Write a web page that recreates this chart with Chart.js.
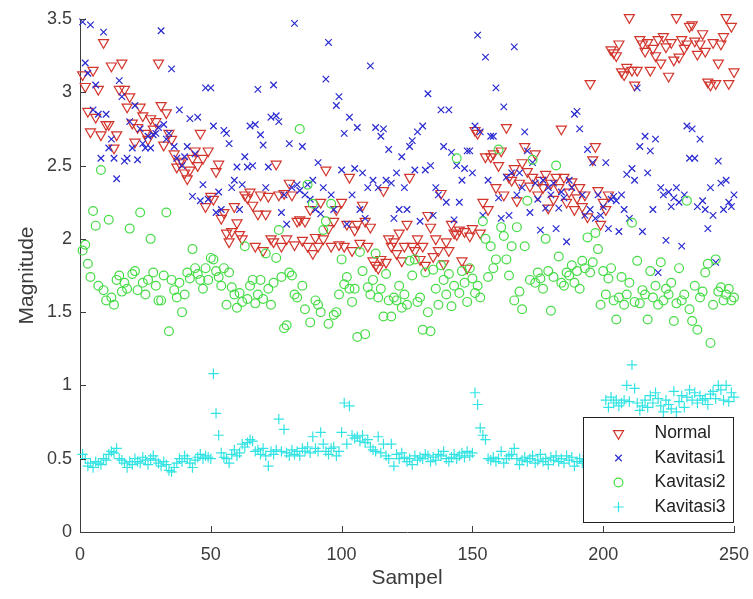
<!DOCTYPE html>
<html>
<head>
<meta charset="utf-8">
<script src="https://cdn.jsdelivr.net/npm/chart.js@4.4.1/dist/chart.umd.min.js"></script>
<style>
  html, body { margin: 0; padding: 0; background: #fff; }
  #wrap { width: 753px; height: 599px; position: relative; }
</style>
</head>
<body>
<div id="wrap"><canvas id="chart"></canvas></div>
<script>
// magnitudes, sample 1..250
const normal = [
  3.12, 3.04, 2.87, 2.73, 3.15, 2.83, 3.02, 2.71, 3.34, 2.78,
  2.78, 3.18, 2.62, 2.71, 3.02, 3.2, 3.02, 2.9, 2.97, 2.79,
  2.66, 2.76, 2.9, 2.84, 2.72, 2.68, 2.82, 2.75, 2.8, 3.2,
  2.91, 2.64, 2.86, 2.72, 2.68, 2.58, 2.49, 2.52, 2.53, 2.45,
  2.41, 2.47, 2.55, 2.6, 2.5, 2.72, 2.55, 2.22, 2.6, 2.29,
  2.27, 2.46, 2.51, 2.14, 2.18, 2.04, 1.98, 2.05, 2.22, 2.11,
  2.03, 2.0, 2.3, 2.28, 2.32, 2.23, 1.95, 2.17, 2.3, 1.92,
  2.17, 2.29, 2.0, 1.98, 2.51, 2.3, 1.95, 2.31, 2.0, 2.38,
  2.3, 1.96, 2.12, 2.13, 1.99, 2.12, 1.95, 2.2, 1.9, 2.01,
  1.95, 2.25, 2.0, 2.47, 2.07, 1.95, 2.12, 2.2, 1.96, 2.25,
  1.95, 2.1, 2.42, 1.92, 2.06, 2.1, 1.97, 2.23, 2.12, 1.95,
  2.08, 1.85, 1.82, 1.8, 1.86, 2.33, 1.84, 2.0, 1.95, 1.98,
  1.9, 2.04, 1.85, 1.95, 2.1, 2.42, 1.95, 1.92, 2.0, 1.86,
  1.95, 1.82, 2.16, 2.08, 1.88, 2.0, 1.92, 2.31, 1.83, 1.98,
  1.92, 2.1, 2.04, 2.03, 2.06, 1.85, 2.05, 1.8, 2.02, 2.07,
  2.74, 2.72, 2.04, 2.25, 2.56, 2.2, 2.56, 2.58, 2.35, 2.5,
  2.6, 2.3, 2.76, 2.42, 2.4, 2.48, 2.26, 2.38, 2.52, 2.63,
  2.46, 2.36, 2.42, 2.58, 2.3, 2.4, 2.35, 2.44, 2.21, 2.38,
  2.27, 2.42, 2.35, 2.75, 2.42, 2.25, 2.32, 2.39, 2.2, 2.28,
  2.35, 2.22, 2.3, 2.15, 3.06, 2.54, 2.63, 2.33, 2.1, 2.25,
  2.2, 2.3, 3.29, 3.27, 3.25, 3.33, 3.14, 3.12, 3.17, 3.51,
  3.15, 3.05, 3.15, 3.36, 3.33, 3.28, 3.34, 3.15, 3.3, 3.25,
  3.36, 3.2, 3.38, 3.31, 3.11, 3.34, 3.22, 3.51, 3.24, 3.36,
  3.3, 3.33, 3.45, 3.46, 3.35, 3.26, 3.33, 3.4, 3.28, 3.07,
  3.05, 3.34, 3.06, 3.2, 3.33, 3.38, 3.51, 3.06, 3.45, 3.14
];

const kavitasi1 = [
  3.48, 3.2, 3.13, 3.46, 2.88, 3.05, 2.85, 2.55, 3.41, 2.85,
  2.62, 2.68, 2.55, 2.41, 3.08, 2.97, 2.53, 2.55, 2.8, 2.62,
  2.91, 2.54, 2.75, 2.65, 2.62, 2.7, 2.62, 2.71, 2.72, 2.76,
  3.42, 2.78, 2.68, 2.72, 3.16, 2.63, 2.55, 2.88, 2.5, 2.56,
  2.63, 2.82, 2.29, 2.58, 2.83, 2.26, 2.37, 3.03, 2.27, 3.03,
  2.77, 2.18, 2.32, 2.2, 2.74, 2.72, 2.65, 2.35, 2.4, 2.49,
  2.2, 2.37, 2.56, 2.49, 2.77, 2.5, 2.78, 3.02, 2.71, 2.64,
  2.35, 2.49, 2.83, 3.05, 2.84, 2.8, 2.18, 2.3, 2.1, 2.65,
  2.35, 3.47, 2.37, 2.33, 2.63, 2.3, 2.37, 2.27, 2.4, 2.2,
  2.52, 2.17, 2.35, 3.09, 3.34, 2.3, 2.2, 2.91, 2.97, 2.47,
  2.72, 2.1, 2.83, 2.3, 2.48, 2.76, 2.2, 2.45, 2.14, 2.35,
  3.18, 2.4, 2.76, 2.35, 2.7, 2.75, 2.4, 2.61, 2.38, 2.14,
  2.45, 2.2, 2.56, 2.35, 2.2, 2.63, 2.67, 2.47, 2.73, 2.12,
  2.77, 2.47, 2.99, 2.5, 2.16, 2.35, 2.3, 2.88, 2.63, 2.25,
  2.88, 2.59, 2.13, 2.5, 2.25, 2.4, 2.48, 2.6, 2.6, 2.45,
  2.77, 3.39, 2.73, 2.16, 3.24, 2.4, 2.7, 2.7, 3.03, 2.28,
  2.14, 2.9, 2.42, 2.16, 2.45, 3.31, 2.3, 2.45, 2.35, 2.73,
  2.6, 2.18, 2.52, 2.38, 2.27, 2.06, 2.4, 2.21, 2.35, 2.3,
  2.38, 2.07, 2.21, 2.32, 2.28, 1.98, 2.4, 2.35, 2.85, 2.87,
  2.75, 2.3, 2.16, 2.61, 2.2, 2.52, 2.14, 2.3, 2.16, 2.22,
  2.52, 2.07, 2.27, 2.29, 2.26, 2.05, 2.3, 2.2, 2.44, 2.14,
  2.48, 2.4, 3.03, 2.63, 2.05, 2.7, 2.45, 2.6, 2.2, 2.68,
  1.77, 2.35, 2.3, 1.99, 2.32, 2.22, 2.28, 2.35, 2.25, 1.95,
  2.3, 2.77, 2.55, 2.75, 2.55, 2.22, 2.68, 2.26, 2.2, 2.07,
  2.35, 2.16, 1.84, 2.53, 2.38, 2.2, 2.4, 2.25, 2.22, 2.3
];

const kavitasi2 = [
  1.92, 1.96, 1.83, 1.74, 2.19, 2.09, 1.68, 2.47, 1.65, 1.58,
  2.13, 1.6, 1.55, 1.72, 1.75, 1.64, 1.7, 1.66, 2.07, 1.76,
  1.78, 1.65, 2.18, 1.7, 1.62, 1.72, 2.0, 1.77, 1.68, 1.58,
  1.58, 1.75, 2.18, 1.37, 1.72, 1.65, 1.6, 1.7, 1.5, 1.62,
  1.77, 1.73, 1.93, 1.8, 1.76, 1.72, 1.66, 1.8, 1.72, 1.87,
  1.86, 1.78, 1.74, 1.68, 1.8, 1.55, 1.77, 1.67, 1.62, 1.53,
  1.63, 1.57, 1.95, 1.59, 1.68, 1.72, 1.56, 1.62, 1.72, 1.59,
  1.9, 1.66, 1.55, 1.7, 1.87, 2.06, 1.74, 1.39, 1.41, 1.77,
  1.75, 1.62, 1.6, 2.75, 1.68, 1.52, 2.37, 1.43, 2.24, 1.58,
  1.55, 1.5, 2.06, 2.12, 1.42, 2.24, 1.48, 1.5, 1.62, 1.86,
  1.69, 1.74, 1.66, 1.57, 1.66, 1.33, 1.91, 1.78, 1.35, 1.67,
  1.62, 1.72, 1.9, 1.6, 1.66, 1.47, 1.76, 1.58, 1.47, 1.6,
  1.58, 1.68, 1.53, 1.62, 1.55, 1.85, 1.75, 1.86, 1.57, 1.6,
  1.38, 1.77, 1.5, 1.37, 1.79, 1.66, 1.55, 1.82, 1.72, 1.62,
  1.76, 1.54, 1.68, 2.55, 1.63, 1.78, 1.7, 1.57, 1.8, 1.73,
  1.63, 1.68, 1.6, 2.12, 2.0, 1.74, 1.95, 1.8, 1.86, 2.61,
  2.08, 2.02, 1.86, 1.75, 1.95, 1.58, 2.08, 1.64, 1.52, 1.95,
  2.26, 1.72, 2.54, 1.7, 1.77, 1.73, 1.66, 2.0, 1.78, 1.51,
  1.74, 2.5, 1.88, 1.7, 1.68, 1.77, 1.75, 1.82, 1.7, 1.78,
  1.66, 1.85, 1.8, 2.01, 1.77, 1.84, 2.04, 1.93, 1.55, 1.78,
  1.62, 1.73, 1.8, 1.58, 1.45, 1.6, 1.74, 1.55, 1.62, 1.7,
  2.11, 1.57, 1.85, 1.56, 1.65, 1.62, 1.45, 1.78, 1.6, 1.68,
  1.55, 1.84, 1.58, 1.66, 1.62, 1.7, 1.44, 1.56, 1.8, 1.58,
  1.62, 2.26, 1.52, 1.44, 1.68, 1.38, 1.6, 1.64, 1.77, 1.83,
  1.29, 1.55, 1.86, 1.64, 1.67, 1.58, 1.62, 1.66, 1.58, 1.6
];

const kavitasi3 = [
  0.53, 0.5, 0.45, 0.47, 0.44, 0.48, 0.47, 0.46, 0.5, 0.49,
  0.53, 0.55, 0.54, 0.57, 0.5, 0.49, 0.47, 0.44, 0.48, 0.46,
  0.5, 0.48, 0.47, 0.51, 0.49, 0.46, 0.5, 0.52, 0.49, 0.47,
  0.45, 0.48, 0.46, 0.42, 0.41, 0.44, 0.47, 0.5, 0.48, 0.52,
  0.5, 0.47, 0.44, 0.49, 0.51, 0.53, 0.5, 0.52, 0.51, 0.5,
  1.08, 0.81, 0.66, 0.54, 0.51, 0.5, 0.47, 0.53, 0.56, 0.52,
  0.54, 0.6, 0.58, 0.61, 0.63, 0.62, 0.55, 0.56, 0.53, 0.57,
  0.52, 0.45, 0.55, 0.53, 0.56, 0.77, 0.55, 0.7, 0.54, 0.52,
  0.56, 0.53, 0.55, 0.52, 0.57, 0.55, 0.58, 0.54, 0.65, 0.57,
  0.55, 0.68, 0.6, 0.55, 0.53, 0.57, 0.58, 0.52, 0.55, 0.68,
  0.88, 0.6, 0.86, 0.66, 0.64, 0.65, 0.62, 0.66, 0.61, 0.63,
  0.58, 0.56, 0.55, 0.65, 0.54, 0.6, 0.52, 0.5, 0.6, 0.45,
  0.53, 0.5, 0.54, 0.51, 0.48, 0.5, 0.46, 0.52, 0.49, 0.51,
  0.5, 0.53, 0.52, 0.48, 0.51, 0.49, 0.53, 0.52, 0.55, 0.5,
  0.48, 0.51, 0.53, 0.5, 0.52, 0.54, 0.51, 0.55, 0.52, 0.54,
  0.95, 0.87, 0.71, 0.66, 0.63, 0.5, 0.49, 0.51, 0.48, 0.5,
  0.55, 0.47, 0.5, 0.52, 0.53, 0.57, 0.5, 0.46, 0.49, 0.51,
  0.48, 0.5, 0.52, 0.47, 0.49, 0.53, 0.48, 0.5, 0.46, 0.51,
  0.49, 0.52, 0.48, 0.5, 0.47, 0.52, 0.49, 0.51, 0.45, 0.48,
  0.5, 0.47, 0.49, 0.52, 0.48, 0.46, 0.5, 0.49, 0.47, 0.5,
  0.9, 0.85, 0.92, 0.88, 0.9, 0.86, 0.88, 0.9, 1.0, 0.89,
  1.14, 0.98, 0.88, 0.83, 0.86, 0.9, 0.85, 0.93, 0.88, 0.95,
  0.91, 0.86, 0.82, 0.9, 0.87, 0.84, 0.96, 0.82, 0.89, 0.93,
  0.85, 0.92, 0.97, 0.9, 0.95, 0.88, 0.93, 0.9, 0.91, 0.87,
  0.94, 0.96, 0.91, 1.0, 0.97, 0.9, 1.0, 0.89, 0.95, 0.92
];

const seriesNames = ["Normal", "Kavitasi1", "Kavitasi2", "Kavitasi3"];
const xTicks = [0, 50, 100, 150, 200, 250];
const yTicks = [0, 0.5, 1, 1.5, 2, 2.5, 3, 3.5];

const AXIS_COLOR = "#3c3c3c";
const FONT = "\"Liberation Sans\", Arial, sans-serif";

const markers = [
  { style: "triangle", rotation: 180, radius: 5.8, color: "#d2352c" },
  { style: "crossRot", rotation: 0, radius: 4.6, color: "#2a2ad2" },
  { style: "circle", rotation: 0, radius: 4.4, color: "#46dc46" },
  { style: "cross", rotation: 0, radius: 5.2, color: "#33e3e3" }
];

function toPoints(values) {
  return values.map((v, i) => ({ x: i + 1, y: v }));
}

function drawMarker(ctx, m, x, y) {
  const r = m.radius;
  ctx.save();
  ctx.strokeStyle = m.color;
  ctx.lineWidth = 1.2;
  ctx.beginPath();
  if (m.style === "triangle") {
    const h = r * Math.sqrt(3) / 2;
    ctx.moveTo(x - h, y - r / 2);
    ctx.lineTo(x + h, y - r / 2);
    ctx.lineTo(x, y + r);
    ctx.closePath();
  } else if (m.style === "crossRot") {
    const d = r * Math.SQRT1_2;
    ctx.moveTo(x - d, y - d); ctx.lineTo(x + d, y + d);
    ctx.moveTo(x - d, y + d); ctx.lineTo(x + d, y - d);
  } else if (m.style === "circle") {
    ctx.arc(x, y, r, 0, Math.PI * 2);
  } else {
    ctx.moveTo(x - r, y); ctx.lineTo(x + r, y);
    ctx.moveTo(x, y - r); ctx.lineTo(x, y + r);
  }
  ctx.stroke();
  ctx.restore();
}

// inward tick marks (MATLAB style) and the boxed legend in the lower right
const matlabAxes = {
  id: "matlabAxes",
  afterDatasetsDraw(chart) {
    const { ctx, chartArea: area, scales } = chart;
    ctx.save();
    ctx.strokeStyle = AXIS_COLOR;
    ctx.lineWidth = 1;
    scales.x.ticks.forEach((t) => {
      const px = Math.round(scales.x.getPixelForValue(t.value)) + 0.5;
      ctx.beginPath();
      ctx.moveTo(px, area.bottom);
      ctx.lineTo(px, area.bottom - 6);
      ctx.stroke();
    });
    scales.y.ticks.forEach((t) => {
      const py = Math.round(scales.y.getPixelForValue(t.value)) + 0.5;
      ctx.beginPath();
      ctx.moveTo(area.left, py);
      ctx.lineTo(area.left + 6, py);
      ctx.stroke();
    });

    const w = 150, h = 105;
    const left = Math.round(area.right - w - 1) + 0.5;
    const top = Math.round(area.bottom - h - 10) + 0.5;
    ctx.fillStyle = "#fff";
    ctx.fillRect(left, top, w, h);
    ctx.strokeStyle = "#222";
    ctx.strokeRect(left, top, w, h);
    ctx.font = "17.5px " + FONT;
    ctx.fillStyle = "#222";
    ctx.textBaseline = "middle";
    ctx.textAlign = "left";
    seriesNames.forEach((name, i) => {
      const cy = top + 16 + i * 24.5;
      drawMarker(ctx, markers[i], left + 35, cy);
      ctx.fillText(name, left + 71, cy);
    });
    ctx.restore();
  }
};

const datasets = [normal, kavitasi1, kavitasi2, kavitasi3].map((values, i) => ({
  label: seriesNames[i],
  data: toPoints(values),
  pointStyle: markers[i].style,
  rotation: markers[i].rotation,
  pointRadius: markers[i].radius,
  pointHoverRadius: markers[i].radius,
  borderColor: markers[i].color,
  backgroundColor: "rgba(0,0,0,0)",
  pointBorderWidth: 1.2,
  clip: false,
  order: 4 - i
}));

new Chart(document.getElementById("chart"), {
  type: "scatter",
  data: { datasets },
  options: {
    animation: false,
    responsive: true,
    maintainAspectRatio: false,
    layout: { padding: { top: 19, right: 19, left: 0, bottom: 0 } },
    plugins: {
      legend: { display: false },
      tooltip: { enabled: false }
    },
    scales: {
      x: {
        type: "linear",
        min: 0,
        max: 250,
        afterBuildTicks: (scale) => { scale.ticks = xTicks.map((v) => ({ value: v })); },
        afterFit: (scale) => {
          scale.height = 67;
          scale.paddingLeft = 0;
          scale.paddingRight = 0;
        },
        grid: { display: false, drawTicks: false, tickLength: 0 },
        border: { display: true, color: AXIS_COLOR, width: 1 },
        ticks: { color: AXIS_COLOR, padding: 12, maxRotation: 0, font: { family: FONT, size: 18 } },
        title: {
          display: true,
          text: "Sampel",
          color: AXIS_COLOR,
          font: { family: FONT, size: 21 },
          padding: { top: 0, bottom: 8 }
        }
      },
      y: {
        type: "linear",
        min: 0,
        max: 3.5,
        afterBuildTicks: (scale) => { scale.ticks = yTicks.map((v) => ({ value: v })); },
        afterFit: (scale) => {
          scale.width = 80;
          scale.paddingTop = 0;
          scale.paddingBottom = 0;
        },
        grid: { display: false, drawTicks: false, tickLength: 0 },
        border: { display: true, color: AXIS_COLOR, width: 1 },
        ticks: {
          color: AXIS_COLOR,
          padding: 8,
          font: { family: FONT, size: 18 },
          callback: (v) => String(v)
        },
        title: {
          display: true,
          text: "Magnitude",
          color: AXIS_COLOR,
          font: { family: FONT, size: 21 },
          padding: { top: 15, bottom: 0 }
        }
      }
    }
  },
  plugins: [matlabAxes]
});
</script>
</body>
</html>
